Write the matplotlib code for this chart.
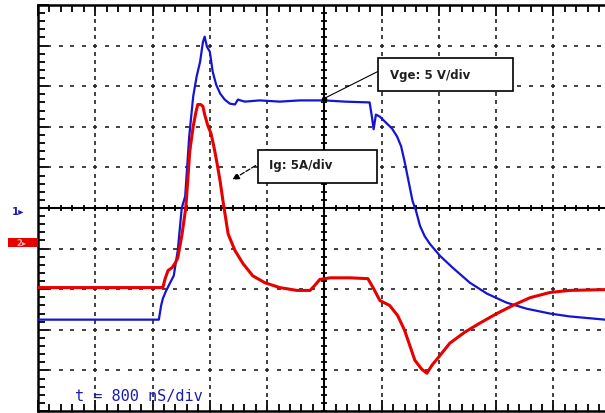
import numpy as np
import matplotlib.pyplot as plt
from matplotlib.patches import Rectangle

# Escala del osciloscopio: 1 div = 800 ns (x), Vge 5 V/div, Ig 5 A/div (y en divisiones)
vge_t = [0, 2.11, 2.15, 2.18, 2.23, 2.30, 2.37, 2.44, 2.51, 2.57,
         2.64, 2.71, 2.77, 2.83, 2.88, 2.91, 2.95, 3.00, 3.05, 3.11,
         3.18, 3.26, 3.35, 3.44, 3.49, 3.61, 3.87, 4.22, 4.57, 5.00,
         5.36, 5.79, 5.83, 5.86, 5.90, 5.97, 6.07, 6.18, 6.27, 6.34,
         6.40, 6.47, 6.54, 6.60, 6.67, 6.75, 6.84, 7.02, 7.24, 7.54,
         7.84, 8.18, 8.53, 8.94, 9.28, 9.90]
vge = [-2.75, -2.75, -2.40, -2.23, -2.06, -1.86, -1.67, -1.05, 0.00, 0.29,
       1.76, 2.75, 3.24, 3.60, 4.09, 4.22, 3.97, 3.85, 3.36, 3.04,
       2.82, 2.67, 2.57, 2.55, 2.67, 2.62, 2.65, 2.62, 2.65, 2.65,
       2.62, 2.60, 2.25, 1.94, 2.30, 2.25, 2.11, 1.96, 1.76, 1.52,
       1.15, 0.66, 0.17, -0.07, -0.44, -0.69, -0.88, -1.18, -1.47, -1.84,
       -2.11, -2.33, -2.48, -2.60, -2.67, -2.75]

ig_t = [0, 2.18, 2.22, 2.27, 2.34, 2.39, 2.44, 2.51, 2.58, 2.62,
        2.65, 2.71, 2.76, 2.79, 2.84, 2.88, 2.91, 2.97, 3.02, 3.07,
        3.12, 3.18, 3.23, 3.32, 3.44, 3.58, 3.75, 3.96, 4.22, 4.52,
        4.75, 4.83, 4.92, 5.10, 5.45, 5.76, 5.85, 5.97, 6.14, 6.28,
        6.40, 6.49, 6.58, 6.70, 6.79, 6.88, 7.02, 7.19, 7.45, 7.71,
        8.01, 8.29, 8.59, 8.94, 9.28, 9.90]
ig = [-1.96, -1.96, -1.74, -1.54, -1.47, -1.37, -1.23, -0.69, 0.00, 0.78,
      1.40, 2.01, 2.38, 2.55, 2.55, 2.50, 2.30, 2.01, 1.84, 1.52,
      1.15, 0.66, 0.17, -0.64, -1.05, -1.37, -1.67, -1.84, -1.96, -2.03,
      -2.03, -1.91, -1.76, -1.72, -1.72, -1.74, -1.96, -2.28, -2.40, -2.65,
      -3.01, -3.38, -3.75, -3.97, -4.07, -3.87, -3.63, -3.33, -3.06, -2.84,
      -2.60, -2.40, -2.21, -2.08, -2.03, -2.01]

vge_label = "Vge: 5 V/div"
ig_label = "Ig: 5A/div"
time_label = "t = 800 nS/div"

fig = plt.figure(figsize=(6.05, 4.14), dpi=100)
ax = fig.add_axes([38 / 605, 2 / 414, 567 / 605, 406 / 414])
ax.set_xlim(0, 9.9)
ax.set_ylim(-5, 5)

# Marco y marcas de división
for s in ["left", "top", "bottom"]:
    ax.spines[s].set_linewidth(1.8)
ax.spines["right"].set_visible(False)
ax.set_xticks(np.arange(0, 10, 1))
ax.set_xticks(np.arange(0, 9.9, 0.2), minor=True)
ax.set_yticks(np.arange(-5, 6, 1))
ax.set_yticks(np.arange(-5, 5.01, 0.2), minor=True)
ax.tick_params(which="both", direction="in", top=True, bottom=True, left=True, right=False,
               labelleft=False, labelbottom=False, width=1.3)
ax.tick_params(which="major", length=8)
ax.tick_params(which="minor", length=5)

# Cuadrícula punteada
gx = [1, 2, 3, 4, 6, 7, 8, 9]
gy = [-4, -3, -2, -1, 1, 2, 3, 4]
dots_y = np.arange(-5, 5.01, 0.2)
dots_x = np.arange(0, 9.9, 0.2)
for x in gx:
    ax.plot(np.full_like(dots_y, x), dots_y, ls="none", marker="|", ms=2.6, mew=1.2, color="#222222")
for y in gy:
    ax.plot(dots_x, np.full_like(dots_x, y), ls="none", marker="_", ms=2.8, mew=1.2, color="#222222")

# Ejes centrales con marcas
ax.axhline(0, color="black", lw=1.5)
ax.axvline(5, color="black", lw=1.5)
ax.plot(dots_x, np.zeros_like(dots_x), ls="none", marker="|", ms=5, mew=1.3, color="black")
ax.plot(np.full_like(dots_y, 5), dots_y, ls="none", marker="_", ms=5, mew=1.3, color="black")

# Trazas
ax.plot(vge_t, vge, color="#1414d2", lw=1.6, zorder=5)
ax.plot(ig_t, ig, color="#e60000", lw=2.2, zorder=6)

# Etiqueta Vge
ax.add_patch(Rectangle((5.93, 2.89), 2.36, 0.81, fc="white", ec="black", lw=1.2, zorder=8))
ax.text(6.14, 3.30, vge_label, fontsize=8.5, fontweight="bold", color="#202020",
        va="center", ha="left", zorder=9)
ax.plot([5.93, 5.0], [3.36, 2.70], color="black", lw=0.8, zorder=8)
ax.plot([5.0], [2.68], marker="o", ms=3, color="black", zorder=8)

# Etiqueta Ig
ax.add_patch(Rectangle((3.84, 0.61), 2.08, 0.81, fc="white", ec="black", lw=1.2, zorder=8))
ax.text(4.03, 1.08, ig_label, fontsize=8.5, fontweight="bold", color="#202020",
        va="center", ha="left", zorder=9)
ax.annotate("", xy=(3.35, 0.66), xytext=(3.84, 1.08),
            arrowprops=dict(arrowstyle="-|>", ls="--", lw=0.9, color="black", mutation_scale=10),
            zorder=9)

ax.text(0.65, -4.73, time_label, fontsize=11, family="DejaVu Sans Mono",
        color="#1a1ab4", va="baseline", ha="left", zorder=9)

# Marcadores de canal a la izquierda
fig.text(12 / 605, 1 - 212 / 414, "1▸", fontsize=7.5, color="#1a1ab4", fontweight="bold",
         va="center", ha="left")
fig.patches.append(Rectangle((8 / 605, 1 - 248 / 414), 30 / 605, 9 / 414,
                             transform=fig.transFigure, fc="#e60000", ec="none"))
fig.text(16 / 605, 1 - 243.5 / 414, "2▸", fontsize=6, color="#ffb0b0", fontweight="bold",
         va="center", ha="left")

fig.savefig("out.png", dpi=100)
